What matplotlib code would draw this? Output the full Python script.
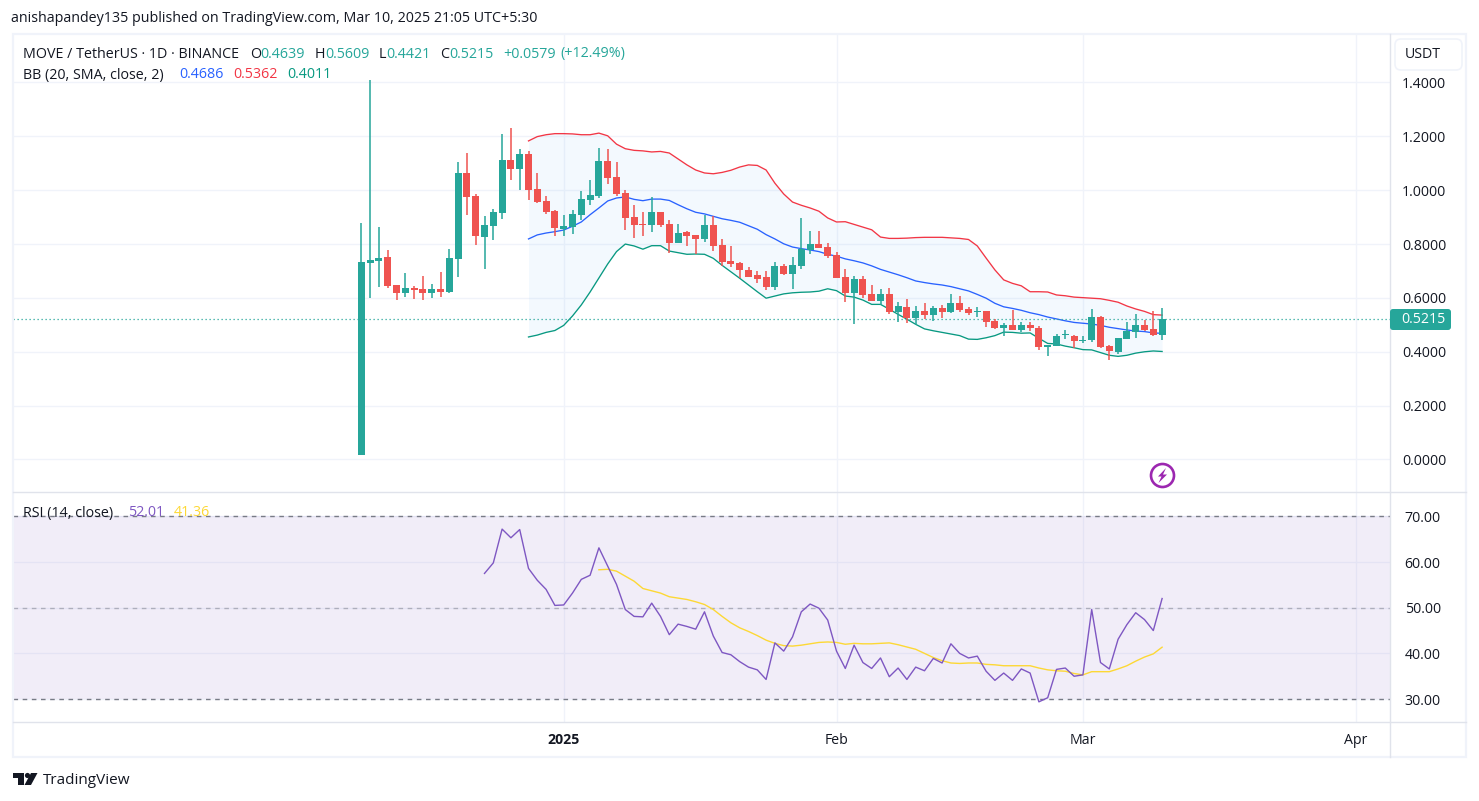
import numpy as np
import matplotlib
matplotlib.use('Agg')
import matplotlib.pyplot as plt
from matplotlib.patches import Rectangle, Circle, Polygon, FancyBboxPatch

plt.rcParams['font.family'] = ['Open Sans', 'DejaVu Sans']

W, H = 1479, 801

# daily candles, Dec 9 2024 (index 0) to Mar 10 2025 (index 91)
opens = [0.017, 0.731, 0.737, 0.752, 0.648, 0.619, 0.637, 0.633, 0.619, 0.633,
         0.623, 0.744, 1.064, 0.978, 0.826, 0.867, 0.915, 1.112, 1.079, 1.134,
         1.004, 0.960, 0.923, 0.856, 0.863, 0.908, 0.964, 0.978, 1.108, 1.049,
         0.990, 0.900, 0.873, 0.871, 0.919, 0.875, 0.804, 0.845, 0.834, 0.819,
         0.871, 0.796, 0.737, 0.730, 0.704, 0.685, 0.678, 0.641, 0.718, 0.689,
         0.718, 0.778, 0.800, 0.789, 0.759, 0.678, 0.618, 0.670, 0.615, 0.589,
         0.615, 0.548, 0.566, 0.525, 0.551, 0.537, 0.563, 0.548, 0.581, 0.559,
         0.548, 0.551, 0.514, 0.488, 0.499, 0.481, 0.499, 0.488, 0.418, 0.421,
         0.462, 0.459, 0.440, 0.444, 0.529, 0.421, 0.399, 0.447, 0.473, 0.499,
         0.485, 0.4639]
highs = [0.877, 1.409, 0.862, 0.778, 0.648, 0.692, 0.644, 0.681, 0.652, 0.696,
         0.782, 1.105, 1.138, 0.986, 0.904, 0.930, 1.209, 1.231, 1.153, 1.146,
         1.064, 0.978, 0.926, 0.908, 0.926, 0.997, 1.038, 1.157, 1.153, 1.105,
         1.001, 0.945, 0.919, 0.975, 0.919, 0.889, 0.875, 0.848, 0.834, 0.908,
         0.904, 0.819, 0.793, 0.733, 0.715, 0.700, 0.700, 0.733, 0.726, 0.752,
         0.897, 0.848, 0.848, 0.804, 0.770, 0.707, 0.681, 0.681, 0.648, 0.633,
         0.637, 0.585, 0.596, 0.570, 0.581, 0.570, 0.574, 0.615, 0.607, 0.566,
         0.566, 0.551, 0.522, 0.507, 0.555, 0.511, 0.511, 0.496, 0.425, 0.466,
         0.481, 0.462, 0.459, 0.559, 0.533, 0.425, 0.451, 0.511, 0.540, 0.518,
         0.551, 0.5609]
lows = [0.017, 0.600, 0.642, 0.637, 0.592, 0.605, 0.595, 0.592, 0.600, 0.603,
        0.618, 0.678, 0.908, 0.796, 0.707, 0.815, 0.893, 1.038, 1.001, 0.964,
        0.952, 0.912, 0.830, 0.830, 0.837, 0.889, 0.945, 0.971, 1.023, 0.978,
        0.852, 0.822, 0.830, 0.845, 0.863, 0.767, 0.804, 0.793, 0.763, 0.808,
        0.774, 0.718, 0.715, 0.674, 0.678, 0.655, 0.629, 0.629, 0.685, 0.633,
        0.707, 0.763, 0.785, 0.748, 0.674, 0.585, 0.503, 0.600, 0.589, 0.574,
        0.540, 0.511, 0.507, 0.499, 0.522, 0.514, 0.525, 0.544, 0.548, 0.537,
        0.529, 0.492, 0.485, 0.459, 0.481, 0.473, 0.477, 0.407, 0.384, 0.421,
        0.447, 0.414, 0.433, 0.436, 0.414, 0.369, 0.392, 0.447, 0.451, 0.477,
        0.459, 0.4421]
closes = [0.733, 0.741, 0.748, 0.645, 0.619, 0.637, 0.629, 0.619, 0.633, 0.623,
          0.748, 1.064, 0.975, 0.830, 0.871, 0.919, 1.112, 1.079, 1.134, 1.001,
          0.956, 0.919, 0.860, 0.867, 0.912, 0.967, 0.982, 1.108, 1.045, 0.986,
          0.897, 0.871, 0.871, 0.919, 0.871, 0.804, 0.841, 0.830, 0.819, 0.871,
          0.793, 0.733, 0.726, 0.704, 0.678, 0.670, 0.641, 0.718, 0.689, 0.722,
          0.782, 0.800, 0.785, 0.756, 0.674, 0.618, 0.670, 0.611, 0.589, 0.615,
          0.548, 0.570, 0.525, 0.551, 0.537, 0.563, 0.548, 0.581, 0.555, 0.544,
          0.551, 0.511, 0.488, 0.499, 0.481, 0.499, 0.488, 0.418, 0.425, 0.459,
          0.466, 0.440, 0.444, 0.529, 0.418, 0.403, 0.451, 0.477, 0.499, 0.481,
          0.4636, 0.5215]

# Bollinger bands start at index 19
bb_upper = [1.183, 1.199, 1.206, 1.210, 1.210, 1.209, 1.206, 1.206, 1.212, 1.202,
            1.171, 1.154, 1.148, 1.146, 1.142, 1.144, 1.138, 1.116, 1.094, 1.075,
            1.064, 1.061, 1.066, 1.074, 1.086, 1.094, 1.092, 1.075, 1.026, 0.986,
            0.956, 0.944, 0.934, 0.922, 0.897, 0.882, 0.883, 0.873, 0.863, 0.853,
            0.826, 0.821, 0.821, 0.822, 0.824, 0.825, 0.825, 0.825, 0.823, 0.821,
            0.817, 0.793, 0.748, 0.704, 0.667, 0.654, 0.645, 0.623, 0.623, 0.622,
            0.611, 0.608, 0.603, 0.601, 0.599, 0.597, 0.591, 0.584, 0.570, 0.559,
            0.550, 0.538, 0.5362]
bb_mid = [0.819, 0.834, 0.841, 0.846, 0.852, 0.866, 0.882, 0.909, 0.934, 0.960,
          0.971, 0.975, 0.966, 0.961, 0.967, 0.967, 0.962, 0.946, 0.931, 0.918,
          0.912, 0.903, 0.894, 0.888, 0.881, 0.868, 0.855, 0.835, 0.819, 0.801,
          0.789, 0.783, 0.778, 0.772, 0.762, 0.755, 0.745, 0.738, 0.730, 0.719,
          0.706, 0.696, 0.686, 0.675, 0.663, 0.657, 0.652, 0.648, 0.642, 0.634,
          0.626, 0.613, 0.599, 0.580, 0.567, 0.561, 0.554, 0.545, 0.538, 0.529,
          0.522, 0.515, 0.509, 0.506, 0.503, 0.498, 0.491, 0.486, 0.481, 0.477,
          0.475, 0.470, 0.4686]
bb_lower = [0.455, 0.462, 0.472, 0.479, 0.498, 0.533, 0.574, 0.622, 0.674, 0.726,
            0.772, 0.800, 0.793, 0.781, 0.794, 0.794, 0.774, 0.768, 0.762, 0.763,
            0.762, 0.747, 0.721, 0.697, 0.673, 0.648, 0.623, 0.599, 0.607, 0.615,
            0.619, 0.621, 0.622, 0.625, 0.634, 0.627, 0.607, 0.603, 0.592, 0.576,
            0.576, 0.558, 0.539, 0.521, 0.502, 0.485, 0.478, 0.472, 0.466, 0.460,
            0.447, 0.446, 0.452, 0.460, 0.473, 0.472, 0.469, 0.470, 0.450, 0.431,
            0.429, 0.421, 0.415, 0.408, 0.407, 0.397, 0.387, 0.383, 0.387, 0.395,
            0.400, 0.403, 0.4011]

# RSI starts at index 14, its moving average at index 27
rsi = [57.5, 59.8, 67.2, 65.3, 67.1, 58.6, 56.0, 54.0, 50.5, 50.6,
       53.2, 56.2, 57.1, 63.1, 59.1, 55.1, 49.6, 48.1, 48.0, 51.0,
       48.1, 44.1, 46.4, 45.9, 45.3, 49.1, 43.8, 40.2, 39.7, 38.2,
       37.0, 36.4, 34.3, 42.3, 40.5, 43.6, 49.1, 50.8, 49.9, 47.3,
       40.5, 36.7, 41.8, 38.0, 36.7, 39.0, 34.9, 36.8, 34.3, 37.0,
       36.2, 38.9, 37.9, 42.1, 40.0, 39.0, 39.4, 36.1, 34.1, 35.7,
       34.1, 36.6, 35.7, 29.4, 30.3, 36.5, 36.8, 35.0, 35.3, 49.6,
       38.0, 36.6, 43.1, 46.3, 48.9, 47.4, 45.0, 52.01]
rsi_ma = [58.3, 58.4, 58.0, 56.9, 55.8, 54.2, 53.7, 53.2, 52.4, 52.1,
          51.8, 51.3, 50.7, 49.6, 48.1, 46.7, 45.6, 44.8, 43.9, 42.9,
          42.2, 41.7, 41.6, 41.8, 42.1, 42.4, 42.5, 42.4, 42.0, 42.2,
          42.1, 42.1, 42.2, 42.3, 41.9, 41.4, 40.9, 40.0, 39.1, 38.4,
          37.9, 37.8, 37.9, 37.9, 37.6, 37.5, 37.3, 37.3, 37.3, 37.3,
          36.8, 36.4, 36.2, 36.1, 35.6, 35.3, 36.0, 36.0, 36.0, 36.6,
          37.3, 38.3, 39.2, 39.9, 41.36]

price_ticks = [0.0, 0.2, 0.4, 0.6, 0.8, 1.0, 1.2, 1.4]
rsi_ticks = [30, 40, 50, 60, 70]
month_pos = [23, 54, 82, 113]
month_labels = ['2025', 'Feb', 'Mar', 'Apr']
last_price = 0.5215

GREEN = '#26a69a'
RED = '#ef5350'
GRID = '#f0f3fa'
EDGE = '#e0e3eb'
TEXT = '#131722'
DASH = (0, (3.3, 3.3))


def fx(x):
    return x / W


def fy(y):
    return 1 - y / H


def pane(left, top, right, bottom):
    return fig.add_axes([fx(left), fy(bottom), (right - left) / W, (bottom - top) / H])


def rule(x0, y0, x1, y1):
    fig.add_artist(plt.Line2D([fx(x0), fx(x1)], [fy(y0), fy(y1)], color=EDGE, linewidth=1, zorder=2))


fig = plt.figure(figsize=(W / 100, H / 100), dpi=100, facecolor='white')

# one bar is 8.8 px wide, bar 0 sits at x = 361.3 px
xlim = ((13 - 361.3) / 8.8, (1390 - 361.3) / 8.8)

# price pane
ax = pane(13, 35, 1390, 492)
idx = np.arange(len(closes))
o = np.array(opens)
c = np.array(closes)
colors = [GREEN if up else RED for up in c >= o]
ax.set_xlim(xlim)
ax.set_ylim((459.5 - 492) / 269.3, (459.5 - 35) / 269.3)
ax.vlines(idx, lows, highs, colors=colors, linewidth=1.1, zorder=4)
ax.bar(idx, np.abs(c - o), bottom=np.minimum(o, c), width=0.8, color=colors, linewidth=0, zorder=5)

bb_x = np.arange(19, 19 + len(bb_mid))
ax.fill_between(bb_x, bb_lower, bb_upper, color='#2196f3', alpha=0.05, linewidth=0, zorder=2)
ax.plot(bb_x, bb_mid, color='#2962ff', linewidth=0.95, zorder=3)
ax.plot(bb_x, bb_upper, color='#f23645', linewidth=0.95, zorder=3)
ax.plot(bb_x, bb_lower, color='#089981', linewidth=0.95, zorder=3)
ax.axhline(last_price, color=GREEN, linewidth=0.9, linestyle=(0, (1, 2.2)), zorder=3)

ax.set_xticks(month_pos)
ax.set_yticks(price_ticks)
ax.set_yticklabels(['%.4f' % t for t in price_ticks])
ax.grid(True, color=GRID, linewidth=1)
ax.set_axisbelow(True)
ax.yaxis.tick_right()
ax.tick_params(axis='y', length=0, pad=8.5, labelsize=10.2, labelcolor=TEXT)
ax.tick_params(axis='x', length=0, labelbottom=False)
for s in ax.spines.values():
    s.set_visible(False)

# RSI pane
ax2 = pane(13, 492, 1390, 722)
ax2.set_xlim(xlim)
ax2.set_ylim(70 - (722 - 516.3) / 4.57, 70 - (492 - 516.3) / 4.57)
ax2.axhspan(30, 70, color='#7e57c2', alpha=0.1, linewidth=0, zorder=1)
ax2.axhline(70, color='#787b86', linewidth=1, linestyle=DASH, zorder=2)
ax2.axhline(50, color='#787b86', linewidth=1, linestyle=DASH, alpha=0.5, zorder=2)
ax2.axhline(30, color='#787b86', linewidth=1, linestyle=DASH, zorder=2)
ax2.plot(np.arange(14, 14 + len(rsi)), rsi, color='#7e57c2', linewidth=1, zorder=4)
ax2.plot(np.arange(27, 27 + len(rsi_ma)), rsi_ma, color='#fdd835', linewidth=1, zorder=3)

ax2.set_xticks(month_pos)
ax2.set_xticklabels(month_labels, color=TEXT, fontsize=10.2)
ax2.get_xticklabels()[0].set_fontweight('bold')
ax2.set_yticks(rsi_ticks)
ax2.set_yticklabels(['%.2f' % t for t in rsi_ticks])
ax2.grid(True, color=GRID, linewidth=1, zorder=0)
ax2.set_axisbelow(True)
ax2.yaxis.tick_right()
ax2.tick_params(axis='y', length=0, pad=10.5, labelsize=10.2, labelcolor=TEXT)
ax2.tick_params(axis='x', length=0, pad=8)
for s in ax2.spines.values():
    s.set_visible(False)

# frame and dividers
fig.add_artist(Rectangle((fx(12.5), fy(757)), 1453.5 / W, 723 / H, transform=fig.transFigure,
                         fill=False, edgecolor=GRID, linewidth=1.6))
rule(1389.5, 34, 1389.5, 757)
rule(13, 492, 1466, 492)
rule(13, 722, 1466, 722)

# USDT box and last price tag
fig.add_artist(FancyBboxPatch((fx(1395), fy(70)), 67 / W, 31 / H, transform=fig.transFigure,
                              boxstyle='round,pad=0,rounding_size=0.004', facecolor='white',
                              edgecolor=GRID, linewidth=1.2, mutation_aspect=W / H))
fig.text(fx(1423), fy(55), 'USDT', fontsize=10.2, color=TEXT, ha='center', va='center')
fig.add_artist(FancyBboxPatch((fx(1390), fy(330)), 61 / W, 21 / H, transform=fig.transFigure,
                              boxstyle='round,pad=0,rounding_size=0.002', facecolor=GREEN,
                              edgecolor='none', mutation_aspect=W / H, zorder=3))
fig.text(fx(1423.5), fy(319.5), '0.5215', fontsize=10.2, color='white', ha='center', va='center', zorder=10)


def label(x, y, s, color=TEXT, size=10.3):
    fig.text(fx(x), fy(y), s, color=color, fontsize=size, va='center', ha='left', zorder=10)


# header and legends
label(11, 19, 'anishapandey135 published on TradingView.com, Mar 10, 2025 21:05 UTC+5:30')
label(23, 54, 'MOVE / TetherUS · 1D · BINANCE')
for x, s in [(250, 'O'), (315, 'H'), (379, 'L'), (440, 'C')]:
    label(x, 54, s)
for x, s in [(260.5, '0.4639'), (325, '0.5609'), (386, '0.4421'), (449, '0.5215'),
             (503, '+0.0579'), (560, '(+12.49%)')]:
    label(x, 54, s, color=GREEN)
label(23, 75, 'BB (20, SMA, close, 2)')
label(179, 75, '0.4686', color='#2962ff')
label(233, 75, '0.5362', color='#f23645')
label(287, 75, '0.4011', color='#089981')
label(23, 513, 'RSI (14, close)')
label(128, 513, '52.01', color='#7e57c2')
label(174, 513, '41.36', color='#fdd835')

# lightning badge
fig.add_artist(Circle((1162.5, H - 475.5), 11.5, transform=None, fill=False,
                      edgecolor='#9c27b0', linewidth=1.9))
bolt = [(1166, 468), (1158, 476.5), (1161.5, 476.5), (1158.5, 483), (1167, 474.5), (1163, 474.5)]
fig.add_artist(Polygon([(x, H - y) for x, y in bolt], transform=None, facecolor='#9c27b0', edgecolor='none'))

# TradingView logo
logo = [
    [(13, 773), (24, 773), (24, 785), (18, 785), (18, 778), (13, 778)],
    [(31, 773), (37.5, 773), (31, 785), (24.5, 785)],
]
for pts in logo:
    fig.add_artist(Polygon([(x, H - y) for x, y in pts], transform=None, facecolor=TEXT, edgecolor='none'))
fig.add_artist(Circle((27.5, H - 775.5), 2.6, transform=None, facecolor=TEXT, edgecolor='none'))
label(43, 780, 'TradingView', size=11)

fig.savefig('out.png', dpi=100)
